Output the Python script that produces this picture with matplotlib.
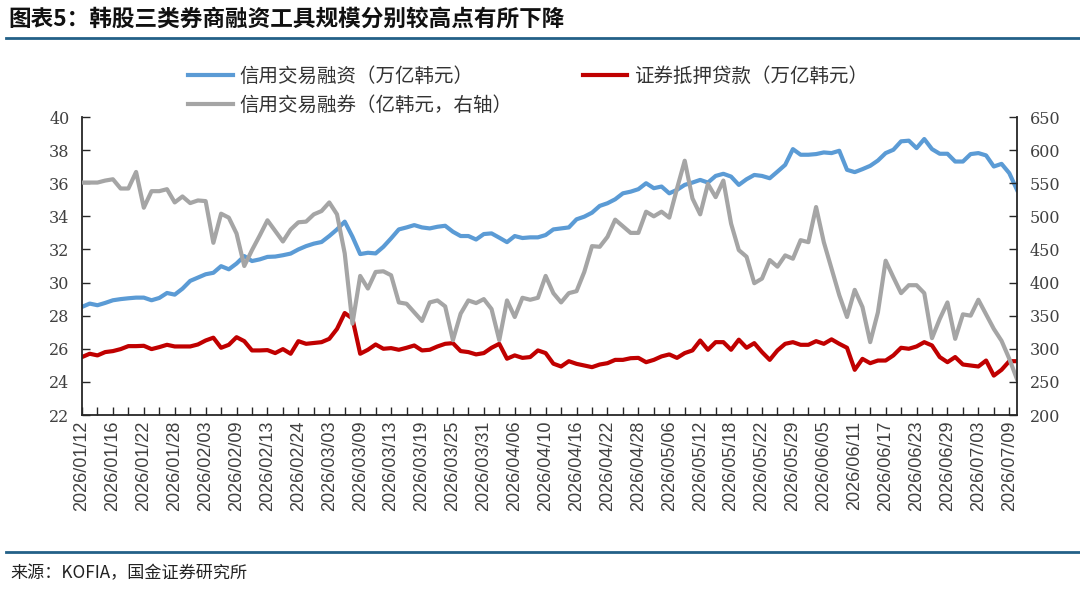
import matplotlib
matplotlib.use("Agg")
import matplotlib.pyplot as plt
from matplotlib.lines import Line2D
import numpy as np
import pandas as pd

# ---------------------------
# DATA
# ---------------------------

# Korean trading days, 2026/01/12 - 2026/07/10
KRX_HOLIDAYS = ["2026-02-16", "2026-02-17", "2026-02-18", "2026-03-02",
                "2026-05-01", "2026-05-05", "2026-05-25", "2026-06-03"]
dates = pd.bdate_range("2026-01-12", "2026-07-10", freq="C", holidays=KRX_HOLIDAYS)
date_labels = [d.strftime("%Y/%m/%d") for d in dates]

# 信用交易融资 (万亿韩元)
credit_loan = [
    28.53, 28.73, 28.63, 28.77, 28.93, 29.00, 29.05, 29.09, 29.09, 28.93,
    29.07, 29.37, 29.27, 29.63, 30.10, 30.30, 30.50, 30.59, 30.99, 30.80,
    31.15, 31.60, 31.30, 31.40, 31.55, 31.57, 31.65, 31.75, 32.00, 32.20,
    32.35, 32.45, 32.81, 33.21, 33.68, 32.77, 31.72, 31.80, 31.76, 32.16,
    32.67, 33.21, 33.33, 33.47, 33.33, 33.27, 33.37, 33.43, 33.07, 32.81,
    32.81, 32.60, 32.93, 32.97, 32.71, 32.44, 32.81, 32.69, 32.73, 32.73,
    32.87, 33.21, 33.27, 33.33, 33.82, 33.98, 34.22, 34.63, 34.79, 35.03,
    35.39, 35.49, 35.64, 36.00, 35.70, 35.80, 35.39, 35.60, 35.90, 36.04,
    36.20, 36.04, 36.44, 36.57, 36.40, 35.90, 36.24, 36.50, 36.44, 36.30,
    36.70, 37.11, 38.06, 37.72, 37.72, 37.76, 37.86, 37.82, 37.96, 36.81,
    36.67, 36.85, 37.05, 37.37, 37.82, 38.02, 38.53, 38.57, 38.12, 38.67,
    38.06, 37.78, 37.78, 37.31, 37.31, 37.76, 37.82, 37.68, 37.01, 37.17,
    36.61, 35.60,
]

# 证券抵押贷款 (万亿韩元)
stock_pledge = [
    25.50, 25.70, 25.60, 25.80, 25.86, 25.98, 26.16, 26.16, 26.18, 25.98,
    26.10, 26.24, 26.14, 26.14, 26.14, 26.26, 26.50, 26.67, 26.06, 26.24,
    26.70, 26.46, 25.90, 25.90, 25.92, 25.74, 25.98, 25.70, 26.46, 26.30,
    26.35, 26.40, 26.60, 27.20, 28.16, 27.82, 25.70, 25.94, 26.26, 26.00,
    26.04, 25.94, 26.06, 26.20, 25.90, 25.94, 26.14, 26.30, 26.34, 25.86,
    25.80, 25.66, 25.74, 26.06, 26.30, 25.40, 25.60, 25.45, 25.50, 25.90,
    25.74, 25.10, 24.93, 25.25, 25.09, 24.99, 24.89, 25.05, 25.13, 25.33,
    25.33, 25.43, 25.45, 25.19, 25.33, 25.54, 25.66, 25.45, 25.74, 25.90,
    26.50, 25.94, 26.40, 26.40, 25.94, 26.55, 26.06, 26.34, 25.80, 25.33,
    25.90, 26.30, 26.40, 26.24, 26.24, 26.46, 26.30, 26.57, 26.30, 26.06,
    24.73, 25.39, 25.13, 25.29, 25.29, 25.60, 26.06, 26.00, 26.14, 26.40,
    26.20, 25.50, 25.19, 25.50, 25.05, 24.99, 24.93, 25.29, 24.38, 24.73,
    25.25, 25.25,
]

# 信用交易融券 (亿韩元, 右轴)
short_balance = [
    551, 551, 551, 554, 556, 542, 542, 567, 513, 538,
    538, 541, 521, 530, 520, 524, 523, 460, 504, 498,
    474, 425, 449, 471, 494, 478, 462, 480, 491, 492,
    503, 508, 521, 503, 444, 338, 410, 391, 416, 417,
    411, 370, 368, 355, 342, 370, 373, 364, 313, 353,
    373, 369, 375, 360, 313, 373, 348, 377, 374, 377,
    410, 384, 370, 384, 387, 416, 455, 454, 469, 495,
    485, 475, 475, 507, 500, 507, 498, 542, 584, 527,
    503, 549, 529, 554, 489, 449, 439, 399, 406, 434,
    424, 441, 436, 464, 461, 514, 461, 421, 381, 348,
    389, 363, 310, 355, 433, 408, 384, 396, 396, 384,
    316, 345, 370, 315, 352, 350, 374, 352, 330, 312,
    285, 254,
]

TITLE = "图表5：韩股三类券商融资工具规模分别较高点有所下降"
SOURCE = "来源：KOFIA，国金证券研究所"
LABELS = ["信用交易融资（万亿韩元）", "信用交易融券（亿韩元，右轴）", "证券抵押贷款（万亿韩元）"]

BLUE = "#5b9bd5"
RED = "#c00000"
GREY = "#a5a5a5"
RULE = "#236087"
INK = "#262626"

# ---------------------------
# PLOT
# ---------------------------

plt.rcParams["font.family"] = ["Noto Sans CJK SC", "DejaVu Sans"]

W, H = 1080, 590
fig = plt.figure(figsize=(W / 100, H / 100), dpi=100)
ax = fig.add_axes([82 / W, 1 - 415 / H, (1017 - 82) / W, (415 - 117) / H])
ax2 = ax.twinx()

x = np.arange(len(dates))
l1, = ax.plot(x, credit_loan, color=BLUE, lw=3, solid_joinstyle="round")
l3, = ax.plot(x, stock_pledge, color=RED, lw=3, solid_joinstyle="round")
l2, = ax2.plot(x, short_balance, color=GREY, lw=3, solid_joinstyle="round")

ax.set_xlim(0, len(dates) - 1)
ax.set_ylim(22, 40)
ax.set_yticks(np.arange(22, 41, 2))
ax2.set_ylim(200, 650)
ax2.set_yticks(np.arange(200, 651, 50))

ax.set_xticks(x[::2])
ax.set_xticklabels([date_labels[i] if i % 4 == 0 else "" for i in x[::2]],
                   rotation=90, family="Liberation Sans", fontsize=13, color="#404040")

for a in (ax, ax2):
    a.spines["top"].set_visible(False)
    for s in a.spines.values():
        s.set_color(INK)
        s.set_linewidth(1.3)
ax2.spines["left"].set_visible(False)
ax2.spines["bottom"].set_visible(False)
ax.spines["right"].set_visible(False)

ax.tick_params(axis="x", direction="in", length=6, width=1, color=INK, pad=4)
ax.tick_params(axis="y", direction="in", length=6, width=1, color=INK, pad=9)
ax2.tick_params(axis="y", direction="in", length=6, width=1, color=INK, pad=9)
for lab in ax.get_yticklabels() + ax2.get_yticklabels():
    lab.set_family("DejaVu Serif")
    lab.set_fontsize(11.5)
    lab.set_color("#404040")

fig.legend([l1, l2, l3], LABELS, loc="upper left",
           bbox_to_anchor=(188 / W, 1 - 66 / H), ncol=2, frameon=False,
           fontsize=14, handlelength=2.3, handletextpad=0.35,
           columnspacing=3.6, labelspacing=0.4, borderpad=0, borderaxespad=0,
           labelcolor="#333333")

fig.text(8 / W, 1 - 19 / H, TITLE, fontsize=16.3, fontweight="bold",
         ha="left", va="center", color="#111111")
fig.add_artist(Line2D([6 / W, 1], [1 - 38 / H] * 2, color=RULE, lw=2,
                      transform=fig.transFigure))
fig.add_artist(Line2D([6 / W, 1], [1 - 552 / H] * 2, color=RULE, lw=2,
                      transform=fig.transFigure))
fig.text(10 / W, 1 - 573 / H, SOURCE, fontsize=12.3, ha="left", va="center",
         color="#222222")

fig.savefig("out.png", dpi=100)
